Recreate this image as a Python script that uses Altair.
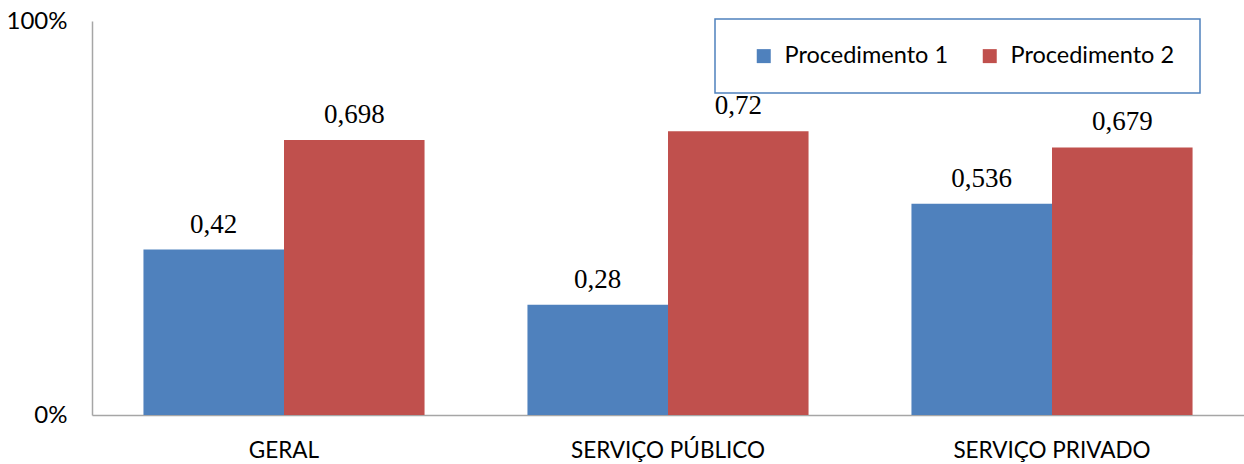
import altair as alt
import pandas as pd

categories = ["GERAL", "SERVIÇO PÚBLICO", "SERVIÇO PRIVADO"]
series = ["Procedimento 1", "Procedimento 2"]
proc1 = [0.42, 0.28, 0.536]
proc2 = [0.698, 0.72, 0.679]
colors = ["#4F81BD", "#C0504D"]

rows = []
for i, c in enumerate(categories):
    for s, vals in zip(series, [proc1, proc2]):
        v = vals[i]
        rows.append({"cat": c, "serie": s, "valor": v, "rotulo": str(v).replace(".", ",")})
df = pd.DataFrame(rows)

x = alt.X("cat:N", sort=categories, title=None,
          scale=alt.Scale(paddingInner=0.268, paddingOuter=0.134),
          axis=alt.Axis(labelAngle=0, labelFont="Lato", labelFontSize=22.5, labelColor="#000000",
                        labelPadding=24, ticks=False, domainColor="#A6A6A6", domainWidth=1.5,
                        labelLimit=400))
y = alt.Y("valor:Q", title=None,
          scale=alt.Scale(domain=[0, 1], nice=False),
          axis=alt.Axis(values=[0, 1], format=".0%", labelFont="Lato", labelFontSize=24,
                        labelColor="#000000", labelPadding=25, ticks=False, grid=False,
                        domainColor="#A6A6A6", domainWidth=1.5))
xoff = alt.XOffset("serie:N", sort=series)

bars = alt.Chart(df).mark_bar().encode(
    x=x, y=y, xOffset=xoff,
    color=alt.Color("serie:N", sort=series, title=None,
                    scale=alt.Scale(domain=series, range=colors),
                    legend=alt.Legend(orient="none", legendX=623, legendY=-2, direction="horizontal",
                                      symbolType="square", symbolSize=196, symbolStrokeWidth=0,
                                      labelFont="Lato", labelFontSize=23.5, labelColor="#000000",
                                      labelLimit=400, labelOffset=9, columnPadding=17,
                                      symbolOffset=12, padding=25,
                                      strokeColor="#4F81BD", fillColor="#FFFFFF")),
)

labels = alt.Chart(df).mark_text(font="Liberation Serif", fontSize=27, baseline="alphabetic",
                                 dy=-17, color="#000000").encode(
    x=x, y=y, xOffset=xoff, text="rotulo:N"
)

chart = alt.layer(bars, labels).properties(
    width=1152, height=394,
    autosize=alt.AutoSizeParams(type="none"),
    padding={"left": 92, "top": 21, "right": 0, "bottom": 49},
).configure_view(stroke=None).configure_axis(domainCap="butt").configure_legend(strokeWidth=1.5)

chart.save("out.html", embed_options={"renderer": "svg", "actions": False})
